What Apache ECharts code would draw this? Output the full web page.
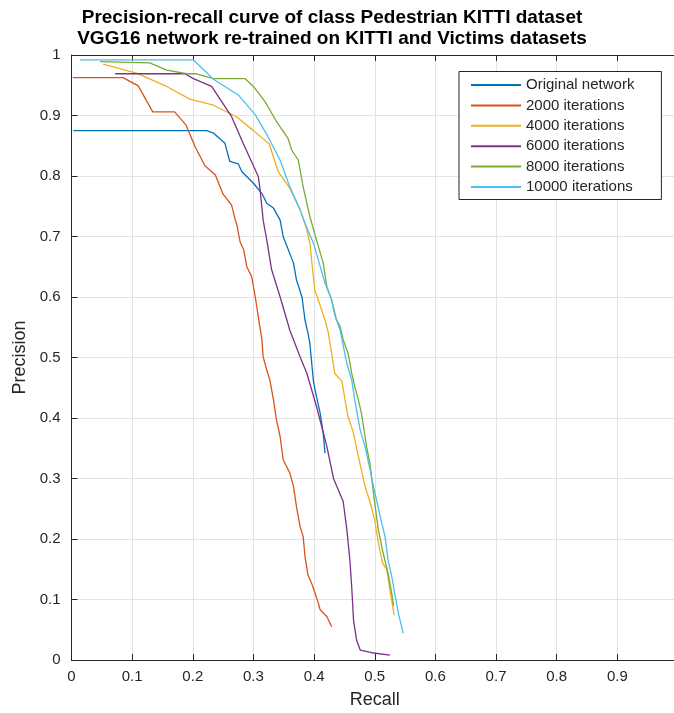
<!DOCTYPE html>
<html>
<head>
<meta charset="utf-8">
<title>Precision-recall curve</title>
<script src="https://cdn.jsdelivr.net/npm/echarts@6/dist/echarts.min.js"></script>
<style>
  html, body { margin: 0; padding: 0; background: #fff; }
  #chart { width: 674px; height: 713px; }
</style>
</head>
<body>
<div id="chart"></div>
<script>
// Tick labels
const xTickLabels = ['0', '0.1', '0.2', '0.3', '0.4', '0.5', '0.6', '0.7', '0.8', '0.9', '1'];
const yTickLabels = ['0', '0.1', '0.2', '0.3', '0.4', '0.5', '0.6', '0.7', '0.8', '0.9', '1'];

// Series names
const seriesNames = ['Original network', '2000 iterations', '4000 iterations',
                     '6000 iterations', '8000 iterations', '10000 iterations'];

// Original network
const origRecall = [0.003, 0.223, 0.234, 0.253, 0.261, 0.275, 0.281, 0.300, 0.314, 0.322, 0.333, 0.344,
  0.349, 0.366, 0.371, 0.380, 0.385, 0.390, 0.393, 0.399, 0.404, 0.410, 0.415, 0.418];
const origPrecision = [0.875, 0.875, 0.871, 0.854, 0.824, 0.820, 0.807, 0.788, 0.771, 0.755, 0.747, 0.727,
  0.700, 0.656, 0.628, 0.600, 0.562, 0.540, 0.523, 0.460, 0.435, 0.408, 0.375, 0.342];

// 2000 iterations
const it2000Recall = [0.002, 0.085, 0.110, 0.134, 0.170, 0.189, 0.204, 0.220, 0.237, 0.250, 0.264, 0.270,
  0.272, 0.278, 0.284, 0.289, 0.297, 0.303, 0.308, 0.314, 0.316, 0.322, 0.327, 0.333, 0.338, 0.344,
  0.349, 0.360, 0.366, 0.371, 0.377, 0.382, 0.385, 0.390, 0.397, 0.407, 0.410, 0.421, 0.429];
const it2000Precision = [0.9625, 0.9625, 0.949, 0.906, 0.906, 0.884, 0.848, 0.817, 0.802, 0.770, 0.752, 0.727,
  0.722, 0.691, 0.678, 0.650, 0.634, 0.600, 0.567, 0.529, 0.501, 0.479, 0.463, 0.430, 0.397, 0.369,
  0.331, 0.309, 0.287, 0.253, 0.220, 0.204, 0.171, 0.140, 0.124, 0.094, 0.083, 0.072, 0.055];

// 4000 iterations
const it4000Recall = [0.052, 0.107, 0.157, 0.195, 0.234, 0.272, 0.300, 0.326, 0.341, 0.360, 0.377, 0.388,
  0.393, 0.401, 0.407, 0.418, 0.423, 0.429, 0.434, 0.446, 0.451, 0.456, 0.465, 0.470, 0.484, 0.492,
  0.500, 0.506, 0.513, 0.520, 0.525, 0.532];
const it4000Precision = [0.985, 0.970, 0.948, 0.927, 0.917, 0.898, 0.875, 0.853, 0.807, 0.780, 0.744, 0.711,
  0.689, 0.612, 0.595, 0.562, 0.543, 0.507, 0.474, 0.460, 0.430, 0.402, 0.375, 0.350, 0.287, 0.262,
  0.231, 0.193, 0.160, 0.149, 0.116, 0.074];

// 6000 iterations
const it6000Recall = [0.072, 0.187, 0.201, 0.231, 0.264, 0.283, 0.308, 0.311, 0.316, 0.322, 0.330, 0.344,
  0.360, 0.377, 0.388, 0.404, 0.421, 0.432, 0.448, 0.454, 0.459, 0.462, 0.465, 0.470, 0.476, 0.495, 0.525];
const it6000Precision = [0.969, 0.969, 0.961, 0.948, 0.898, 0.854, 0.799, 0.777, 0.727, 0.694, 0.645, 0.600,
  0.545, 0.501, 0.474, 0.419, 0.353, 0.300, 0.262, 0.215, 0.165, 0.121, 0.066, 0.033, 0.0165, 0.012, 0.008];

// 8000 iterations
const it8000Recall = [0.047, 0.129, 0.157, 0.190, 0.206, 0.234, 0.286, 0.300, 0.319, 0.338, 0.357, 0.363,
  0.374, 0.382, 0.393, 0.404, 0.415, 0.421, 0.429, 0.437, 0.443, 0.448, 0.456, 0.462, 0.467, 0.473,
  0.478, 0.487, 0.492, 0.500, 0.506, 0.514, 0.522, 0.528, 0.531];
const it8000Precision = [0.989, 0.987, 0.975, 0.969, 0.969, 0.961, 0.961, 0.948, 0.923, 0.890, 0.862, 0.843,
  0.826, 0.782, 0.733, 0.694, 0.656, 0.617, 0.595, 0.562, 0.551, 0.529, 0.507, 0.474, 0.452, 0.430,
  0.408, 0.350, 0.325, 0.259, 0.215, 0.176, 0.143, 0.110, 0.090];

// 10000 iterations
const it10000Recall = [0.014, 0.201, 0.234, 0.275, 0.303, 0.324, 0.344, 0.360, 0.377, 0.388, 0.399, 0.407,
  0.418, 0.429, 0.434, 0.443, 0.454, 0.462, 0.467, 0.476, 0.484, 0.498, 0.509, 0.517, 0.522, 0.528,
  0.533, 0.539, 0.547];
const it10000Precision = [0.992, 0.992, 0.960, 0.934, 0.901, 0.865, 0.826, 0.782, 0.744, 0.714, 0.689, 0.661,
  0.623, 0.595, 0.570, 0.545, 0.490, 0.463, 0.430, 0.380, 0.353, 0.287, 0.237, 0.204, 0.165, 0.138,
  0.110, 0.077, 0.044];

const seriesColors = ['#0072BD', '#D95319', '#EDB120', '#7E2F8E', '#77AC30', '#4DBEEE'];
const recalls = [origRecall, it2000Recall, it4000Recall, it6000Recall, it8000Recall, it10000Recall];
const precisions = [origPrecision, it2000Precision, it4000Precision, it6000Precision, it8000Precision, it10000Precision];

const zip = (xs, ys) => xs.map((x, i) => [x, ys[i]]);

const axisColor = '#262626';
const gridColor = '#e3e3e3';
const fontFamily = '"Liberation Sans", Arial, Helvetica, sans-serif';

const chart = echarts.init(document.getElementById('chart'), null, { renderer: 'canvas' });

chart.setOption({
  animation: false,
  backgroundColor: '#ffffff',
  title: {
    text: 'Precision-recall curve of class Pedestrian KITTI dataset\nVGG16 network re-trained on KITTI and Victims datasets',
    left: 332,
    top: 7,
    textAlign: 'center',
    padding: 0,
    textStyle: {
      fontFamily: fontFamily,
      fontSize: 19,
      fontWeight: 'bold',
      color: '#000',
      lineHeight: 21
    }
  },
  legend: {
    orient: 'vertical',
    left: 459,
    top: 71.5,
    itemWidth: 50,
    itemHeight: 14,
    itemGap: 5.4,
    padding: [6, 27, 5, 11],
    backgroundColor: '#ffffff',
    borderColor: axisColor,
    borderWidth: 1,
    borderRadius: 0,
    itemStyle: { opacity: 0 },
    textStyle: { fontFamily: fontFamily, fontSize: 15, color: axisColor },
    data: seriesNames
  },
  grid: {
    left: 71.5,
    top: 55,
    width: 606.5,
    height: 605,
    containLabel: false,
    outerBoundsMode: 'none'
  },
  xAxis: [{
    type: 'value',
    min: 0,
    max: 1,
    interval: 0.1,
    position: 'bottom',
    name: 'Recall',
    nameLocation: 'middle',
    nameGap: 31,
    nameTextStyle: { fontFamily: fontFamily, fontSize: 18, color: axisColor },
    axisLine: { show: true, onZero: false, lineStyle: { color: axisColor, width: 1 } },
    axisTick: { show: true, inside: true, length: 6, lineStyle: { color: axisColor } },
    axisLabel: {
      margin: 9,
      fontFamily: fontFamily,
      fontSize: 15,
      color: axisColor,
      hideOverlap: false,
      showMaxLabel: true,
      formatter: v => xTickLabels[Math.round(v * 10)]
    },
    splitLine: { show: true, lineStyle: { color: gridColor, width: 1 } }
  }, {
    type: 'value',
    min: 0,
    max: 1,
    interval: 0.1,
    position: 'top',
    axisLine: { show: true, onZero: false, lineStyle: { color: axisColor, width: 1 } },
    axisTick: { show: true, inside: true, length: 6, lineStyle: { color: axisColor } },
    axisLabel: { show: false },
    splitLine: { show: false }
  }],
  yAxis: {
    type: 'value',
    min: 0,
    max: 1,
    interval: 0.1,
    name: 'Precision',
    nameLocation: 'middle',
    nameGap: 36,
    nameTextStyle: { fontFamily: fontFamily, fontSize: 18, color: axisColor },
    axisLine: { show: true, onZero: false, lineStyle: { color: axisColor, width: 1 } },
    axisTick: { show: true, inside: true, length: 6, lineStyle: { color: axisColor } },
    axisLabel: {
      margin: 11,
      fontFamily: fontFamily,
      fontSize: 15,
      color: axisColor,
      formatter: v => yTickLabels[Math.round(v * 10)]
    },
    splitLine: { show: true, lineStyle: { color: gridColor, width: 1 } }
  },
  series: seriesNames.map((name, i) => ({
    name: name,
    type: 'line',
    xAxisIndex: 0,
    symbol: 'none',
    showSymbol: false,
    smooth: false,
    clip: true,
    lineStyle: { color: seriesColors[i], width: 1.3 },
    itemStyle: { color: seriesColors[i] },
    emphasis: { disabled: true },
    data: zip(recalls[i], precisions[i])
  }))
});
</script>
</body>
</html>
